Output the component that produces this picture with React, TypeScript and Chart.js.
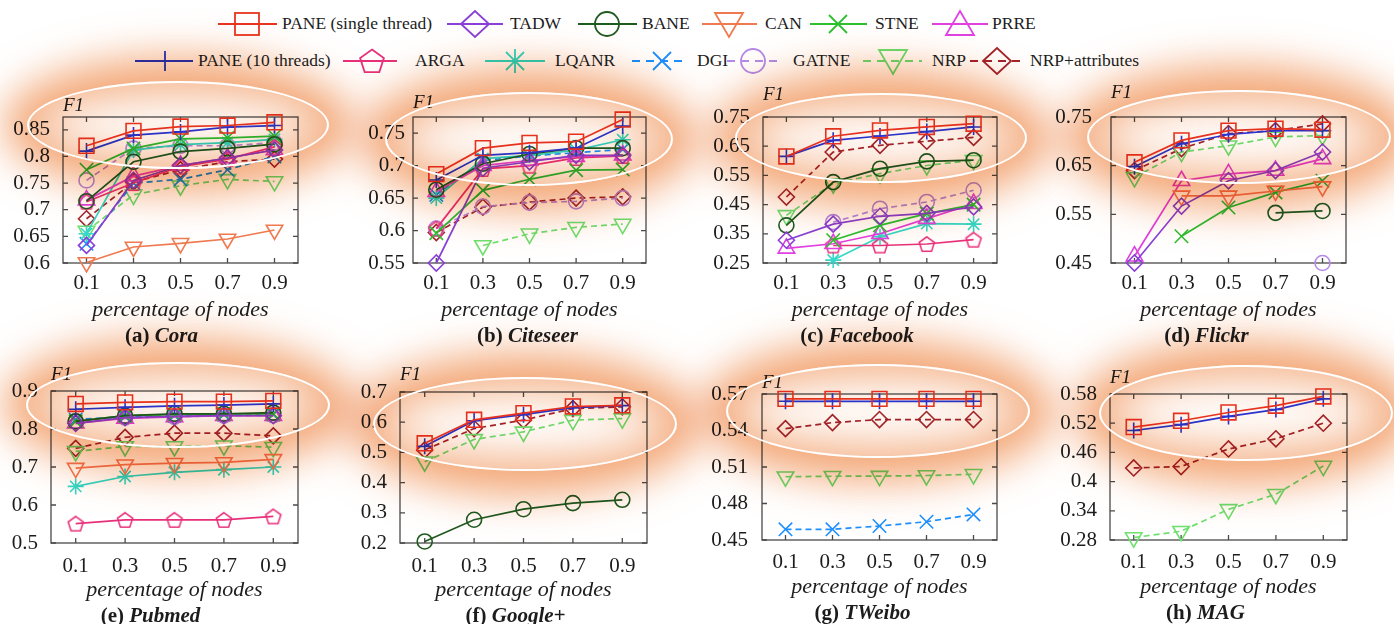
import React, { useEffect, useRef } from "react";
import { Chart, registerables } from "chart.js";
Chart.register(...registerables);

// ---------------- DATA ----------------
const xValues = [0.1, 0.3, 0.5, 0.7, 0.9];
const xTicks = [0.1, 0.3, 0.5, 0.7, 0.9];

const coraTicks = [0.6, 0.65, 0.7, 0.75, 0.8, 0.85];
const citeseerTicks = [0.55, 0.6, 0.65, 0.7, 0.75];
const facebookTicks = [0.25, 0.35, 0.45, 0.55, 0.65, 0.75];
const flickrTicks = [0.45, 0.55, 0.65, 0.75];
const pubmedTicks = [0.5, 0.6, 0.7, 0.8, 0.9];
const googleTicks = [0.2, 0.3, 0.4, 0.5, 0.6, 0.7];
const tweiboTicks = [0.45, 0.48, 0.51, 0.54, 0.57];
const magTicks = [0.28, 0.34, 0.4, 0.46, 0.52, 0.58];

const cora = {
  paneS: [0.82, 0.848, 0.856, 0.858, 0.864],
  pane10: [0.81, 0.84, 0.846, 0.855, 0.858],
  tadw: [0.633, 0.755, 0.783, 0.797, 0.812],
  bane: [0.716, 0.79, 0.809, 0.815, 0.823],
  can: [0.601, 0.63, 0.637, 0.645, 0.662],
  stne: [0.775, 0.815, 0.833, 0.835, 0.838],
  prre: [0.718, 0.763, 0.783, 0.797, 0.812],
  arga: [0.715, 0.75, 0.781, 0.795, 0.818],
  lqanr: [0.655, 0.812, 0.822, 0.826, 0.832],
  dgi: [0.636, 0.75, 0.757, 0.775, 0.8],
  gatne: [0.755, 0.815, 0.82, 0.82, 0.826],
  nrp: [0.66, 0.728, 0.745, 0.757, 0.753],
  nrpa: [0.683, 0.752, 0.775, 0.79, 0.795],
};
const citeseer = {
  paneS: [0.687, 0.727, 0.735, 0.737, 0.771],
  pane10: [0.678, 0.716, 0.72, 0.727, 0.761],
  tadw: [0.55, 0.696, 0.706, 0.716, 0.716],
  bane: [0.663, 0.703, 0.718, 0.727, 0.727],
  stne: [0.596, 0.662, 0.679, 0.693, 0.694],
  prre: [0.66, 0.7, 0.708, 0.714, 0.716],
  arga: [0.603, 0.695, 0.7, 0.712, 0.715],
  lqanr: [0.65, 0.711, 0.716, 0.724, 0.74],
  dgi: [0.655, 0.708, 0.715, 0.72, 0.725],
  gatne: [0.603, 0.637, 0.643, 0.645, 0.65],
  nrp: [null, 0.577, 0.595, 0.605, 0.61],
  nrpa: [0.597, 0.636, 0.644, 0.65, 0.652],
};
const facebook = {
  paneS: [0.615, 0.684, 0.704, 0.716, 0.727],
  pane10: [0.615, 0.67, 0.685, 0.7, 0.716],
  tadw: [0.328, 0.383, 0.41, 0.42, 0.442],
  bane: [0.379, 0.527, 0.573, 0.598, 0.602],
  stne: [null, 0.328, 0.379, 0.419, 0.45],
  prre: [0.3, 0.316, 0.35, 0.402, 0.453],
  arga: [null, 0.31, 0.31, 0.315, 0.33],
  lqanr: [null, 0.26, 0.34, 0.385, 0.383],
  gatne: [null, 0.39, 0.436, 0.459, 0.499],
  nrp: [0.413, 0.522, 0.556, 0.584, 0.602],
  nrpa: [0.476, 0.63, 0.653, 0.667, 0.68],
};
const flickr = {
  paneS: [0.657, 0.702, 0.722, 0.726, 0.724],
  pane10: [0.648, 0.695, 0.714, 0.722, 0.722],
  tadw: [0.45, 0.567, 0.619, 0.64, 0.678],
  bane: [null, null, null, 0.553, 0.557],
  can: [null, 0.588, 0.588, 0.598, 0.607],
  stne: [null, 0.505, 0.564, 0.595, 0.619],
  prre: [0.464, 0.619, 0.633, 0.64, 0.664],
  gatne: [null, null, null, null, 0.45],
  nrp: [0.626, 0.678, 0.691, 0.709, 0.712],
  nrpa: [0.64, 0.685, 0.716, 0.722, 0.736],
};
const pubmed = {
  paneS: [0.866, 0.87, 0.872, 0.872, 0.874],
  pane10: [0.852, 0.857, 0.861, 0.863, 0.866],
  tadw: [0.815, 0.83, 0.833, 0.835, 0.835],
  bane: [0.82, 0.835, 0.84, 0.84, 0.843],
  can: [0.697, 0.706, 0.71, 0.712, 0.72],
  stne: [0.82, 0.835, 0.838, 0.84, 0.84],
  prre: [0.815, 0.828, 0.832, 0.835, 0.835],
  arga: [0.551, 0.561, 0.561, 0.561, 0.57],
  lqanr: [0.649, 0.675, 0.686, 0.693, 0.7],
  dgi: [0.825, 0.832, 0.835, 0.838, 0.838],
  gatne: [0.82, 0.83, 0.832, 0.835, 0.836],
  nrp: [0.741, 0.754, 0.754, 0.756, 0.752],
  nrpa: [0.749, 0.778, 0.789, 0.789, 0.782],
};
const googleplus = {
  paneS: [0.53, 0.608, 0.63, 0.652, 0.656],
  pane10: [0.52, 0.605, 0.625, 0.648, 0.655],
  bane: [0.205, 0.277, 0.312, 0.332, 0.343],
  nrp: [0.469, 0.543, 0.568, 0.607, 0.612],
  nrpa: [0.508, 0.579, 0.607, 0.645, 0.651],
};
const tweibo = {
  paneS: [0.566, 0.566, 0.566, 0.566, 0.566],
  pane10: [0.564, 0.564, 0.564, 0.564, 0.564],
  dgi: [0.4588, 0.4588, 0.4615, 0.465, 0.471],
  nrp: [0.502, 0.5024, 0.5025, 0.503, 0.504],
  nrpa: [0.5415, 0.5465, 0.549, 0.549, 0.549],
};
const mag = {
  paneS: [0.512, 0.525, 0.542, 0.556, 0.575],
  pane10: [0.505, 0.517, 0.534, 0.548, 0.57],
  nrp: [0.285, 0.298, 0.343, 0.374, 0.432],
  nrpa: [0.428, 0.431, 0.467, 0.488, 0.52],
};

// ---------------- STYLES ----------------
const methods = [
  { key: "paneS", label: "PANE (single thread)", color: "#e8331f", marker: "rect", dash: false },
  { key: "pane10", label: "PANE (10 threads)", color: "#2b35d8", marker: "cross", dash: false },
  { key: "tadw", label: "TADW", color: "#8a3fd8", marker: "rectRot", dash: false },
  { key: "bane", label: "BANE", color: "#1f5a1f", marker: "circle", dash: false },
  { key: "can", label: "CAN", color: "#f07a50", marker: "triDown", dash: false },
  { key: "stne", label: "STNE", color: "#2ec02e", marker: "crossRot", dash: false },
  { key: "prre", label: "PRRE", color: "#e040e0", marker: "triangle", dash: false },
  { key: "arga", label: "ARGA", color: "#e8307a", marker: "pentagon", dash: false },
  { key: "lqanr", label: "LQANR", color: "#35d8c8", marker: "star", dash: false },
  { key: "dgi", label: "DGI", color: "#1e8fff", marker: "crossRot", dash: true },
  { key: "gatne", label: "GATNE", color: "#b48aea", marker: "circle", dash: true },
  { key: "nrp", label: "NRP", color: "#6ee06e", marker: "triDown", dash: true },
  { key: "nrpa", label: "NRP+attributes", color: "#a3232a", marker: "rectRot", dash: true },
];
const methodByKey: any = {};
methods.forEach((m) => (methodByKey[m.key] = m));

const legendRows = [
  { y: 24, items: [
    { key: "paneS", x1: 218, x2: 277, mx: 247, tx: 282 },
    { key: "tadw", x1: 447, x2: 503, mx: 475, tx: 510 },
    { key: "bane", x1: 578, x2: 637, mx: 607, tx: 642 },
    { key: "can", x1: 702, x2: 757, mx: 729, tx: 765 },
    { key: "stne", x1: 810, x2: 867, mx: 838, tx: 875 },
    { key: "prre", x1: 932, x2: 988, mx: 960, tx: 992 },
  ] },
  { y: 61, items: [
    { key: "pane10", x1: 135, x2: 193, mx: 165, tx: 198 },
    { key: "arga", x1: 343, x2: 397, mx: 372, tx: 415 },
    { key: "lqanr", x1: 485, x2: 545, mx: 515, tx: 555 },
    { key: "dgi", x1: 632, x2: 687, mx: 662, tx: 697 },
    { key: "gatne", x1: 727, x2: 782, mx: 753, tx: 793 },
    { key: "nrp", x1: 863, x2: 922, mx: 893, tx: 932 },
    { key: "nrpa", x1: 970, x2: 1023, mx: 997, tx: 1030 },
  ] },
];

const panels = [
  { tag: "(a)", name: "Cora", series: cora, yTicks: coraTicks, yMax: 0.874, box: [63, 298, 117, 263], f1Gap: 11, capDx: -19, yPad: 13, xPad: 8, ell: [178, 125, 151, 44] },
  { tag: "(b)", name: "Citeseer", series: citeseer, yTicks: citeseerTicks, yMax: 0.775, box: [413, 646, 117, 263], f1Gap: 14, capDx: -2, yPad: 8, xPad: 8, ell: [529, 139, 144, 47] },
  { tag: "(c)", name: "Facebook", series: facebook, yTicks: facebookTicks, yMax: 0.75, box: [763, 997, 117, 263], f1Gap: 22, capDx: -23, yPad: 13, xPad: 8, ell: [881, 138, 146, 45] },
  { tag: "(d)", name: "Flickr", series: flickr, yTicks: flickrTicks, yMax: 0.75, box: [1111, 1346, 117, 263], f1Gap: 24, capDx: -22, yPad: 19, xPad: 8, ell: [1239, 137, 152, 47] },
  { tag: "(e)", name: "Pubmed", series: pubmed, yTicks: pubmedTicks, yMax: 0.9, box: [51, 298, 391, 543], f1Gap: 16, capDx: -24, yPad: 13, xPad: 11, ell: [178, 405, 152, 43] },
  { tag: "(f)", name: "Google+", series: googleplus, yTicks: googleTicks, yMax: 0.7, box: [400, 647, 392, 543], f1Gap: 17, capDx: -8, yPad: 13, xPad: 11, ell: [525, 424, 152, 47] },
  { tag: "(g)", name: "TWeibo", series: tweibo, yTicks: tweiboTicks, yMax: 0.57, box: [762, 997, 394, 540], f1Gap: 11, capDx: -17, yPad: 14, xPad: 10, ell: [878, 411, 152, 47] },
  { tag: "(h)", name: "MAG", series: mag, yTicks: magTicks, yMax: 0.58, box: [1110, 1347, 394, 540], f1Gap: 16, capDx: -23, yPad: 13, xPad: 10, ell: [1246, 413, 147, 48] },
];

const FONT = "'Liberation Serif', 'Times New Roman', serif";
const TEXT = "#1c1c1c";
const Y_AXIS_W = 62;
const PAD_TOP = 32;
const PAD_RIGHT = 25;
const X_AXIS_H = 95;

const markerRadius: any = { rect: 10.5, cross: 8, rectRot: 8, circle: 7.5, triDown: 9.5, triangle: 9.5, crossRot: 9.5, star: 8, pentagon: 0 };

function fmt(v: number) {
  return parseFloat(Number(v).toFixed(3)).toString();
}

function makePentagon(color: string) {
  const c = document.createElement("canvas");
  c.width = 20;
  c.height = 20;
  const g = c.getContext("2d")!;
  g.strokeStyle = color;
  g.lineWidth = 1.5;
  g.beginPath();
  const r = 8;
  for (let i = 0; i < 5; i++) {
    const a = -Math.PI / 2 + (i * 2 * Math.PI) / 5;
    const px = 10 + r * Math.cos(a);
    const py = 10.8 + r * Math.sin(a);
    if (i === 0) g.moveTo(px, py);
    else g.lineTo(px, py);
  }
  g.closePath();
  g.stroke();
  return c;
}

const decorPlugin = {
  id: "decor",
  beforeDatasetsDraw(chart: any) {
    const { ctx, chartArea, scales } = chart;
    const { left, right, top, bottom } = chartArea;
    ctx.save();
    ctx.strokeStyle = "#4a4a4a";
    ctx.lineWidth = 1.3;
    ctx.strokeRect(left, top, right - left, bottom - top);
    const tl = 5;
    ctx.beginPath();
    scales.x.ticks.forEach((t: any) => {
      const x = scales.x.getPixelForValue(t.value);
      ctx.moveTo(x, bottom);
      ctx.lineTo(x, bottom - tl);
      ctx.moveTo(x, top);
      ctx.lineTo(x, top + tl);
    });
    scales.y.ticks.forEach((t: any) => {
      const y = scales.y.getPixelForValue(t.value);
      ctx.moveTo(left, y);
      ctx.lineTo(left + tl, y);
      ctx.moveTo(right, y);
      ctx.lineTo(right - tl, y);
    });
    ctx.stroke();
    ctx.restore();
  },
  afterDraw(chart: any, _args: any, opts: any) {
    const { ctx, chartArea } = chart;
    const { left, right, top, bottom } = chartArea;
    ctx.save();
    ctx.fillStyle = TEXT;
    ctx.textBaseline = "middle";
    ctx.textAlign = "left";
    ctx.font = `italic 19px ${FONT}`;
    ctx.fillText("F1", left, top - opts.f1Gap);
    // caption
    const f1 = `bold 21px ${FONT}`;
    const f2 = `italic bold 21px ${FONT}`;
    const t1 = opts.tag + " ";
    ctx.font = f1;
    const w1 = ctx.measureText(t1).width;
    ctx.font = f2;
    const w2 = ctx.measureText(opts.name).width;
    const cx = (left + right) / 2 + opts.capDx;
    const x0 = cx - (w1 + w2) / 2;
    const cy = bottom + 74;
    ctx.font = f1;
    ctx.fillText(t1, x0, cy);
    ctx.font = f2;
    ctx.fillText(opts.name, x0 + w1, cy);
    ctx.restore();
  },
};

function Panel({ p }: any) {
  const ref = useRef<HTMLCanvasElement>(null);
  const [L, R, T, B] = p.box;
  const width = R - L + Y_AXIS_W + PAD_RIGHT;
  const height = B - T + PAD_TOP + X_AXIS_H;
  useEffect(() => {
    if (!ref.current) return;
    const datasets = methods
      .filter((m) => p.series[m.key])
      .map((m) => {
        const vals = p.series[m.key];
        const style = m.marker === "pentagon" ? makePentagon(m.color) : m.marker === "triDown" ? "triangle" : m.marker;
        return {
          label: m.label,
          data: xValues.map((x, i) => ({ x, y: vals[i] })),
          borderColor: m.color,
          backgroundColor: "rgba(0,0,0,0)",
          borderWidth: 1.7,
          borderDash: m.dash ? [6, 4] : [],
          pointStyle: style,
          pointRotation: m.marker === "triDown" ? 180 : 0,
          pointRadius: markerRadius[m.marker] || 8,
          pointBorderWidth: 1.6,
          pointBorderColor: m.color,
          pointBackgroundColor: "rgba(0,0,0,0)",
          clip: false,
          tension: 0,
          spanGaps: false,
        };
      });
    const tickFont = { family: FONT, size: 21 };
    const chart = new Chart(ref.current, {
      type: "line",
      data: { datasets },
      options: {
        animation: false,
        responsive: false,
        devicePixelRatio: 1,
        layout: { padding: { top: PAD_TOP, right: PAD_RIGHT, left: 0, bottom: 0 } },
        plugins: {
          legend: { display: false },
          tooltip: { enabled: false },
          decor: { f1Gap: p.f1Gap, capDx: p.capDx, tag: p.tag, name: p.name },
        } as any,
        scales: {
          x: {
            type: "linear",
            min: 0,
            max: 1,
            afterBuildTicks: (s: any) => {
              s.ticks = xTicks.map((v) => ({ value: v }));
            },
            afterFit: (s: any) => {
              s.height = X_AXIS_H;
            },
            grid: { display: false, drawTicks: false },
            border: { display: false },
            ticks: { padding: p.xPad, font: tickFont, color: TEXT, maxRotation: 0, autoSkip: false, callback: (v: any) => fmt(v) },
            title: {
              display: true,
              text: "percentage of nodes",
              color: TEXT,
              font: { family: FONT, size: 22, style: "italic" },
              padding: { top: 0, bottom: 35 },
            },
          },
          y: {
            type: "linear",
            min: p.yTicks[0],
            max: p.yMax,
            afterBuildTicks: (s: any) => {
              s.ticks = p.yTicks.map((v: number) => ({ value: v }));
            },
            afterFit: (s: any) => {
              s.width = Y_AXIS_W;
            },
            grid: { display: false, drawTicks: false },
            border: { display: false },
            ticks: { padding: p.yPad, font: tickFont, color: TEXT, autoSkip: false, callback: (v: any) => fmt(v) },
          },
        },
      } as any,
      plugins: [decorPlugin as any],
    });
    return () => chart.destroy();
  }, []);
  return (
    <canvas
      ref={ref}
      width={width}
      height={height}
      style={{ position: "absolute", left: L - Y_AXIS_W, top: T - PAD_TOP, width, height }}
    />
  );
}

function LegendIcon({ m, it, y }: any) {
  const w = it.x2 - it.x1;
  const h = 34;
  const cy = h / 2;
  const mx = it.mx - it.x1;
  const sw = 1.8;
  let shape: any = null;
  switch (m.marker) {
    case "rect":
      shape = <rect x={mx - 12} y={cy - 11} width={24} height={22} />;
      break;
    case "rectRot":
      shape = <polygon points={`${mx - 14},${cy} ${mx},${cy - 13} ${mx + 14},${cy} ${mx},${cy + 13}`} />;
      break;
    case "circle":
      shape = <circle cx={mx} cy={cy} r={12} />;
      break;
    case "triDown":
      shape = <polygon points={`${mx - 14},${cy - 11} ${mx + 14},${cy - 11} ${mx},${cy + 13}`} />;
      break;
    case "triangle":
      shape = <polygon points={`${mx - 14},${cy + 11} ${mx + 14},${cy + 11} ${mx},${cy - 13}`} />;
      break;
    case "crossRot":
      shape = <path d={`M${mx - 9},${cy - 9}L${mx + 9},${cy + 9}M${mx - 9},${cy + 9}L${mx + 9},${cy - 9}`} />;
      break;
    case "cross":
      shape = <path d={`M${mx},${cy - 10}L${mx},${cy + 10}`} />;
      break;
    case "star":
      shape = <path d={`M${mx},${cy - 12}L${mx},${cy + 12}M${mx - 9},${cy - 9}L${mx + 9},${cy + 9}M${mx - 9},${cy + 9}L${mx + 9},${cy - 9}`} />;
      break;
    case "pentagon": {
      const pts = [];
      for (let i = 0; i < 5; i++) {
        const a = -Math.PI / 2 + (i * 2 * Math.PI) / 5;
        pts.push(`${mx + 12.5 * Math.cos(a)},${cy + 1 + 12.5 * Math.sin(a)}`);
      }
      shape = <polygon points={pts.join(" ")} />;
      break;
    }
  }
  return (
    <svg
      width={w}
      height={h}
      style={{ position: "absolute", left: it.x1, top: y - cy, overflow: "visible" }}
    >
      <line x1={0} y1={cy} x2={w} y2={cy} stroke={m.color} strokeWidth={sw} strokeDasharray={m.dash ? "8 6" : undefined} />
      <g fill="none" stroke={m.color} strokeWidth={sw}>
        {shape}
      </g>
    </svg>
  );
}

export default function App() {
  return (
    <div
      style={{
        position: "absolute",
        left: 0,
        top: 0,
        width: 1394,
        height: 624,
        background: "#ffffff",
        overflow: "hidden",
        fontFamily: FONT,
      }}
    >
      {legendRows.map((row) =>
        row.items.map((it) => {
          const m = methodByKey[it.key];
          return (
            <React.Fragment key={it.key}>
              <LegendIcon m={m} it={it} y={row.y} />
              <span
                style={{
                  position: "absolute",
                  left: it.tx,
                  top: row.y,
                  transform: "translateY(-50%)",
                  fontSize: 17.5,
                  color: TEXT,
                  whiteSpace: "nowrap",
                  lineHeight: 1,
                }}
              >
                {m.label}
              </span>
            </React.Fragment>
          );
        })
      )}
      {panels.map((p) => (
        <Panel key={p.name} p={p} />
      ))}
      {panels.map((p) => {
        const [cx, cy, rx, ry] = p.ell;
        return (
          <div
            key={"g" + p.name}
            style={{
              position: "absolute",
              left: cx - rx,
              top: cy - ry,
              width: 2 * rx,
              height: 2 * ry,
              borderRadius: "50%",
              boxShadow: "0 0 42px 24px rgba(240,146,86,0.8), inset 0 0 40px 16px rgba(240,146,86,0.66)",
              mixBlendMode: "multiply",
              pointerEvents: "none",
            }}
          />
        );
      })}
      {panels.map((p) => {
        const [cx, cy, rx, ry] = p.ell;
        return (
          <div
            key={"w" + p.name}
            style={{
              position: "absolute",
              left: cx - rx,
              top: cy - ry,
              width: 2 * rx,
              height: 2 * ry,
              borderRadius: "50%",
              border: "2.5px solid #ffffff",
              boxSizing: "border-box",
              pointerEvents: "none",
            }}
          />
        );
      })}
    </div>
  );
}
